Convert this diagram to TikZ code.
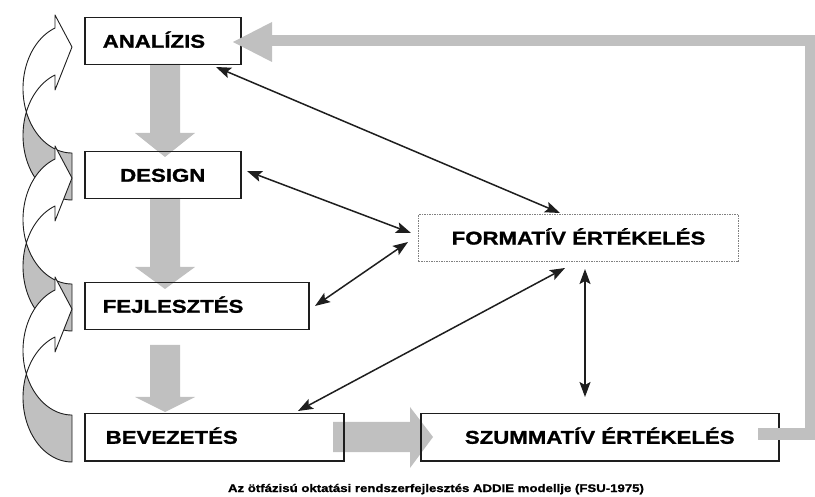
\documentclass[tikz,border=0pt]{standalone}
\usepackage{fontspec}
\newfontfamily\lsans{Liberation Sans}[FakeStretch=1.2, BoldFeatures={FakeBold=1.2}]
\usetikzlibrary{arrows.meta}
\definecolor{band}{RGB}{192,192,192}
\definecolor{ink}{RGB}{30,30,30}
\tikzset{
  phase/.style={draw=ink, line width=1.5pt, anchor=north west, inner ysep=0pt,
    minimum height=47pt, text height=13pt, text depth=0pt,
    font=\lsans\bfseries\fontsize{18.5}{20}\selectfont},
  evalbox/.style={phase, draw=gray, densely dotted, line width=1.1pt},
  link/.style={draw=ink, line width=1.5pt,
    {Stealth[length=15pt,width=11pt,inset=3pt]}-{Stealth[length=15pt,width=11pt,inset=3pt]}},
  flow/.style={fill=band, draw=none},
  loopback/.style={draw=band, line width=11pt},
  curveback/.style={fill=band, draw=ink, line width=0.9pt, line join=round},
  curvefront/.style={fill=white, draw=ink, line width=0.9pt, line join=round}
}
% curved return arrow on the left: tail at the lower box (bottom edge y=#1),
% head pointing right at the box above
\newcommand\returnarrow[1]{%
  \pgfmathsetmacro\cA{#1-64.5}\pgfmathsetmacro\cB{#1-111.5}%
  \filldraw[curveback]
    plot[domain=90:201.4,samples=40] ({72+49*cos(\x)},{\cA+64.5*sin(\x)})
    -- plot[domain=158.6:90,samples=40] ({72+49*cos(\x)},{\cB+64.5*sin(\x)})
    -- cycle;
  \filldraw[curvefront]
    plot[domain=158.6:249.7,samples=40] ({72+49*cos(\x)},{\cB+64.5*sin(\x)})
    -- (55,#1-185) -- (72,#1-153) -- (55,#1-110)
    -- plot[domain=249.7:201.4,samples=40] ({72+49*cos(\x)},{\cA+64.5*sin(\x)})
    -- cycle;
}
\begin{document}
\begin{tikzpicture}[x=1pt,y=-1pt]
\useasboundingbox[fill=white] (0,0) rectangle (815,497);

% curved return arrows (Design->Analízis, Fejlesztés->Design, Bevezetés->Fejlesztés)
\returnarrow{200}
\returnarrow{331}
\returnarrow{462}

% thick grey flow arrows
\fill[flow] (150,64) -- (180,64) -- (180,133) -- (195,133) -- (165,157) -- (135,133) -- (150,133) -- cycle;
\fill[flow] (150,198) -- (180,198) -- (180,267) -- (195,267) -- (165,289) -- (135,267) -- (150,267) -- cycle;
\fill[flow] (150,345) -- (180,345) -- (180,397) -- (195,397) -- (165,412) -- (135,397) -- (150,397) -- cycle;
\fill[flow] (333,422) -- (410,422) -- (410,407) -- (433,437) -- (410,468) -- (410,452) -- (333,452) -- cycle;

% phases
\node[phase, text width=120pt, inner xsep=18pt, align=left] (an) at (84,17) {ANALÍZIS};
\node[phase, text width=120pt, inner xsep=18pt, align=center] (de) at (84,151) {DESIGN};
\node[phase, text width=188pt, inner xsep=18pt, align=left] (fe) at (84,282) {FEJLESZTÉS};
\node[phase, text width=217pt, inner xsep=21pt, align=left] (be) at (84,413) {BEVEZETÉS};
\node[evalbox, text width=300pt, inner xsep=10pt, align=center] (fo) at (418,214) {FORMATÍV ÉRTÉKELÉS};
\node[phase, text width=338pt, inner xsep=10pt, align=center] (sz) at (420,413) {SZUMMATÍV ÉRTÉKELÉS};

% feedback from the summative evaluation back to the analysis
\coordinate (szout) at (758,434);
\coordinate (c1) at (810,434);
\coordinate (c2) at (810,41);
\coordinate (anin) at (272,41);
\draw[loopback] (szout) -- (c1) -- (c2) -- (anin);
\fill[flow] (272,22) -- (233,42) -- (272,62) -- cycle;

% formative evaluation links
\coordinate (p1) at (216,67);   \coordinate (q1) at (560,213);
\coordinate (p2) at (247,171);  \coordinate (q2) at (411,233);
\coordinate (p3) at (315,306);  \coordinate (q3) at (408,242);
\coordinate (p4) at (298,411);  \coordinate (q4) at (565,268);
\coordinate (p5) at (585,269);  \coordinate (q5) at (585,397);
\draw[link] (p1) -- (q1);
\draw[link] (p2) -- (q2);
\draw[link] (p3) -- (q3);
\draw[link] (p4) -- (q4);
\draw[link] (p5) -- (q5);

\node[font=\lsans\bfseries\fontsize{11}{13}\selectfont, anchor=base] (cap) at (436,492)
  {Az ötfázisú oktatási rendszerfejlesztés ADDIE modellje (FSU-1975)};
\end{tikzpicture}
\end{document}
